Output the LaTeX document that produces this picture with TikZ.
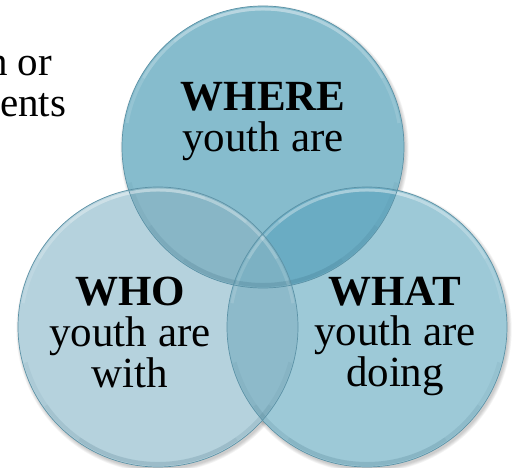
\documentclass[tikz,border=0pt]{standalone}
\usepackage{fontspec}
\setmainfont{Liberation Serif}
\usetikzlibrary{calc}
\definecolor{topfill}{RGB}{134,188,205}
\definecolor{leftfill}{RGB}{181,210,221}
\definecolor{rightfill}{RGB}{157,201,215}
\definecolor{tlfill}{RGB}{136,182,198}
\definecolor{trfill}{RGB}{106,172,195}
\definecolor{lrfill}{RGB}{141,186,202}
\definecolor{allfill}{RGB}{124,177,195}
\definecolor{rimline}{RGB}{92,146,166}
\definecolor{rimdark}{RGB}{40,90,110}
\begin{document}
\begin{tikzpicture}[x=1pt,y=-1pt,
  label/.style={font=\fontsize{43}{41}\selectfont, align=center, inner sep=0pt, text=black, anchor=base},
  fragment/.style={font=\fontsize{41}{41}\selectfont, inner sep=0pt, anchor=base west},
  outline/.style={draw=rimline, line width=0.7pt},
  glint/.style={white, opacity=0.13, line width=3pt},
  shadeband/.style={rimdark, opacity=0.06, line width=4pt}]
\useasboundingbox (0,0) rectangle (515,468);
\clip (0,0) rectangle (515,468);

% circle centres
\coordinate (ct) at (263,147);
\coordinate (cl) at (158,327);
\coordinate (cr) at (367,327);

% soft drop shadows
\foreach \c/\r in {ct/141,cl/140,cr/140}
  \foreach \k in {0,...,4}
    \fill[black, opacity=0.045] ($(\c)+(1.5,2.5)$) circle[radius=\r pt+0.8pt*\k];

% base discs
\fill[topfill] (ct) circle[radius=141pt];
\fill[leftfill] (cl) circle[radius=140pt];
\fill[rightfill] (cr) circle[radius=140pt];

% overlaps
\begin{scope}
  \clip (ct) circle[radius=141pt];
  \fill[tlfill] (cl) circle[radius=140pt];
  \fill[trfill] (cr) circle[radius=140pt];
\end{scope}
\begin{scope}
  \clip (cl) circle[radius=140pt];
  \fill[lrfill] (cr) circle[radius=140pt];
  \clip (ct) circle[radius=141pt];
  \fill[allfill] (cr) circle[radius=140pt];
\end{scope}

% glassy bevels
\foreach \c/\r in {ct/141,cl/140,cr/140} {
  \foreach \s in {80,60,40,20}
    \draw[glint] (\c) ++(90-\s:\r pt-3pt) arc[start angle=90-\s, end angle=90+\s, radius=\r pt-3pt];
  \foreach \s in {75,55,35}
    \draw[shadeband] (\c) ++(270-\s:\r pt-3pt) arc[start angle=270-\s, end angle=270+\s, radius=\r pt-3pt];
}

% rims
\draw[outline] (ct) circle[radius=141pt];
\draw[outline] (cl) circle[radius=140pt];
\draw[outline] (cr) circle[radius=140pt];

% labels (anchored on the baseline of their last line)
\node[label] (where) at (263,152) {\textbf{WHERE}\\youth are};
\node[label] (who) at (130,388) {\textbf{WHO}\\youth are\\with};
\node[label] (what) at (395,387) {\textbf{WHAT}\\youth are\\doing};

% text running in from the left margin
\node[fragment] (fragA) at (-13,76) {n or};
\node[fragment] (fragB) at (0,117) {ents};
\end{tikzpicture}
\end{document}
